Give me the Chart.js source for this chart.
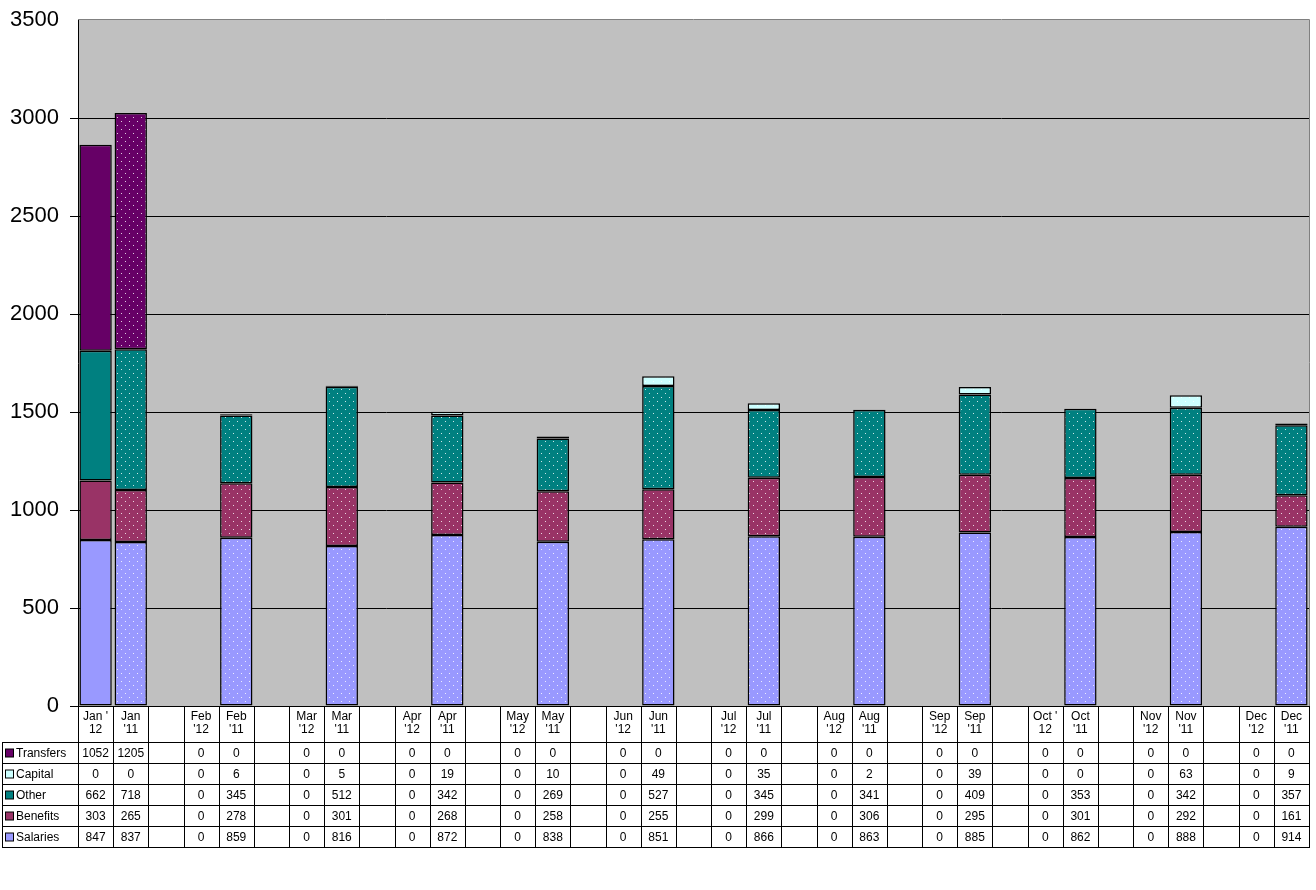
<!DOCTYPE html>
<html>
<head>
<meta charset="utf-8">
<script src="https://cdn.jsdelivr.net/npm/chart.js@4/dist/chart.umd.min.js"></script>
<style>
  html, body { margin: 0; padding: 0; background: #fff; }
  #wrap { width: 1316px; height: 890px; }
</style>
</head>
<body>
<div id="wrap"><canvas id="chart"></canvas></div>
<script>
// Columns: '12 and '11 side by side for each month, a blank column between months
const categories = [
  ["Jan '", "12"], ["Jan", "'11"], "",
  ["Feb", "'12"], ["Feb", "'11"], "",
  ["Mar", "'12"], ["Mar", "'11"], "",
  ["Apr", "'12"], ["Apr", "'11"], "",
  ["May", "'12"], ["May", "'11"], "",
  ["Jun", "'12"], ["Jun", "'11"], "",
  ["Jul", "'12"], ["Jul", "'11"], "",
  ["Aug", "'12"], ["Aug", "'11"], "",
  ["Sep", "'12"], ["Sep", "'11"], "",
  ["Oct '", "12"], ["Oct", "'11"], "",
  ["Nov", "'12"], ["Nov", "'11"], "",
  ["Dec", "'12"], ["Dec", "'11"]
]

const salaries  = [847, 837, null, 0, 859, null, 0, 816, null, 0, 872, null, 0, 838, null, 0, 851, null, 0, 866, null, 0, 863, null, 0, 885, null, 0, 862, null, 0, 888, null, 0, 914]
const benefits  = [303, 265, null, 0, 278, null, 0, 301, null, 0, 268, null, 0, 258, null, 0, 255, null, 0, 299, null, 0, 306, null, 0, 295, null, 0, 301, null, 0, 292, null, 0, 161]
const other     = [662, 718, null, 0, 345, null, 0, 512, null, 0, 342, null, 0, 269, null, 0, 527, null, 0, 345, null, 0, 341, null, 0, 409, null, 0, 353, null, 0, 342, null, 0, 357]
const capital   = [0, 0, null, 0, 6, null, 0, 5, null, 0, 19, null, 0, 10, null, 0, 49, null, 0, 35, null, 0, 2, null, 0, 39, null, 0, 0, null, 0, 63, null, 0, 9]
const transfers = [1052, 1205, null, 0, 0, null, 0, 0, null, 0, 0, null, 0, 0, null, 0, 0, null, 0, 0, null, 0, 0, null, 0, 0, null, 0, 0, null, 0, 0, null, 0, 0]

const yTicks = { min: 0, max: 3500, step: 500 }

const FONT = "Arial, 'Liberation Sans', sans-serif"

// white dot fill used on the '11 bars
function dotted(color) {
  const c = document.createElement("canvas")
  c.width = 8
  c.height = 8
  const g = c.getContext("2d")
  g.fillStyle = color
  g.fillRect(0, 0, 8, 8)
  g.fillStyle = "rgba(255,255,255,0.8)"
  g.fillRect(1, 1, 1, 1)
  g.fillRect(5, 5, 1, 1)
  return g.createPattern(c, "repeat")
}

// bottom to top of the stack
const series = [
  { label: "Salaries",  data: salaries,  color: "#9999FF" },
  { label: "Benefits",  data: benefits,  color: "#993366" },
  { label: "Other",     data: other,     color: "#008080" },
  { label: "Capital",   data: capital,   color: "#CCFFFF" },
  { label: "Transfers", data: transfers, color: "#660066" }
]

const plotBg = {
  id: "plotBg",
  beforeDraw(chart) {
    const { ctx, chartArea: a } = chart
    ctx.save()
    ctx.fillStyle = "#C0C0C0"
    ctx.fillRect(a.left, a.top, a.width, a.height)
    ctx.restore()
  },
  afterDatasetsDraw(chart) {
    const { ctx, chartArea: a } = chart
    ctx.save()
    ctx.strokeStyle = "#808080"
    ctx.lineWidth = 1
    ctx.beginPath()
    ctx.moveTo(a.left, Math.round(a.top) - 0.5)
    ctx.lineTo(Math.round(a.right) + 0.5, Math.round(a.top) - 0.5)
    ctx.lineTo(Math.round(a.right) + 0.5, a.bottom)
    ctx.stroke()
    ctx.restore()
  }
}

// Excel-style data table under the x axis, with legend keys in the first column
const dataTable = {
  id: "dataTable",
  afterDraw(chart) {
    const { ctx, chartArea: a } = chart
    const rows = series.slice().reverse()
    const top = Math.round(a.bottom)
    const head = top + 36
    const rowH = 21
    const bottom = head + rowH * rows.length
    const colW = a.width / categories.length

    ctx.save()
    ctx.strokeStyle = "#000"
    ctx.lineWidth = 1
    ctx.beginPath()
    for (let i = 0; i <= categories.length; i++) {
      const px = Math.round(a.left + i * colW) + 0.5
      ctx.moveTo(px, top)
      ctx.lineTo(px, bottom)
    }
    ctx.moveTo(2.5, head)
    ctx.lineTo(2.5, bottom)
    for (let r = 0; r <= rows.length; r++) {
      const py = head + r * rowH + 0.5
      ctx.moveTo(2, py)
      ctx.lineTo(Math.round(a.right) + 1, py)
    }
    ctx.stroke()

    ctx.font = `12px ${FONT}`
    ctx.fillStyle = "#000"
    ctx.textBaseline = "middle"
    rows.forEach((s, r) => {
      const yc = head + r * rowH + rowH / 2 + 1
      ctx.fillStyle = s.color
      ctx.fillRect(5.5, yc - 4.5, 8, 8)
      ctx.strokeRect(5.5, yc - 4.5, 8, 8)
      ctx.fillStyle = "#000"
      ctx.textAlign = "left"
      ctx.fillText(s.label, 16, yc)
      ctx.textAlign = "center"
      s.data.forEach((v, i) => {
        if (v === null) return
        ctx.fillText(String(v), a.left + (i + 0.5) * colW, yc)
      })
    })
    ctx.restore()
  }
}

new Chart(document.getElementById("chart"), {
  type: "bar",
  data: {
    labels: categories,
    datasets: series.map(s => ({
      label: s.label,
      data: s.data.map(v => (v ? v : null)),
      backgroundColor: c => (c.dataIndex % 3 === 1 ? dotted(s.color) : s.color),
      borderColor: "#000",
      borderWidth: 1.5,
      borderSkipped: false,
      categoryPercentage: 1,
      barPercentage: 0.92
    }))
  },
  options: {
    responsive: true,
    maintainAspectRatio: false,
    animation: false,
    layout: { padding: { top: 20, right: 7, bottom: 148, left: 0 } },
    plugins: {
      legend: { display: false },
      tooltip: { enabled: false }
    },
    scales: {
      x: {
        stacked: true,
        grid: { display: false, drawTicks: false },
        border: { color: "#000" },
        ticks: {
          autoSkip: false,
          maxRotation: 0,
          minRotation: 0,
          padding: 4,
          color: "#000",
          font: { family: FONT, size: 12, lineHeight: 1.1 }
        },
        afterFit: s => { s.height = 36 }
      },
      y: {
        stacked: true,
        min: yTicks.min,
        max: yTicks.max,
        ticks: {
          stepSize: yTicks.step,
          padding: 11,
          color: "#000",
          font: { family: FONT, size: 22 },
          callback: v => String(v)
        },
        grid: {
          color: c => (c.tick && c.tick.value === yTicks.max ? "rgba(0,0,0,0)" : "#000"),
          tickLength: 8
        },
        border: { color: "#000" },
        afterFit: s => {
          s.width = 78
          s.paddingTop = 0
          s.paddingBottom = 0
        }
      }
    }
  },
  plugins: [plotBg, dataTable]
})
</script>
</body>
</html>
